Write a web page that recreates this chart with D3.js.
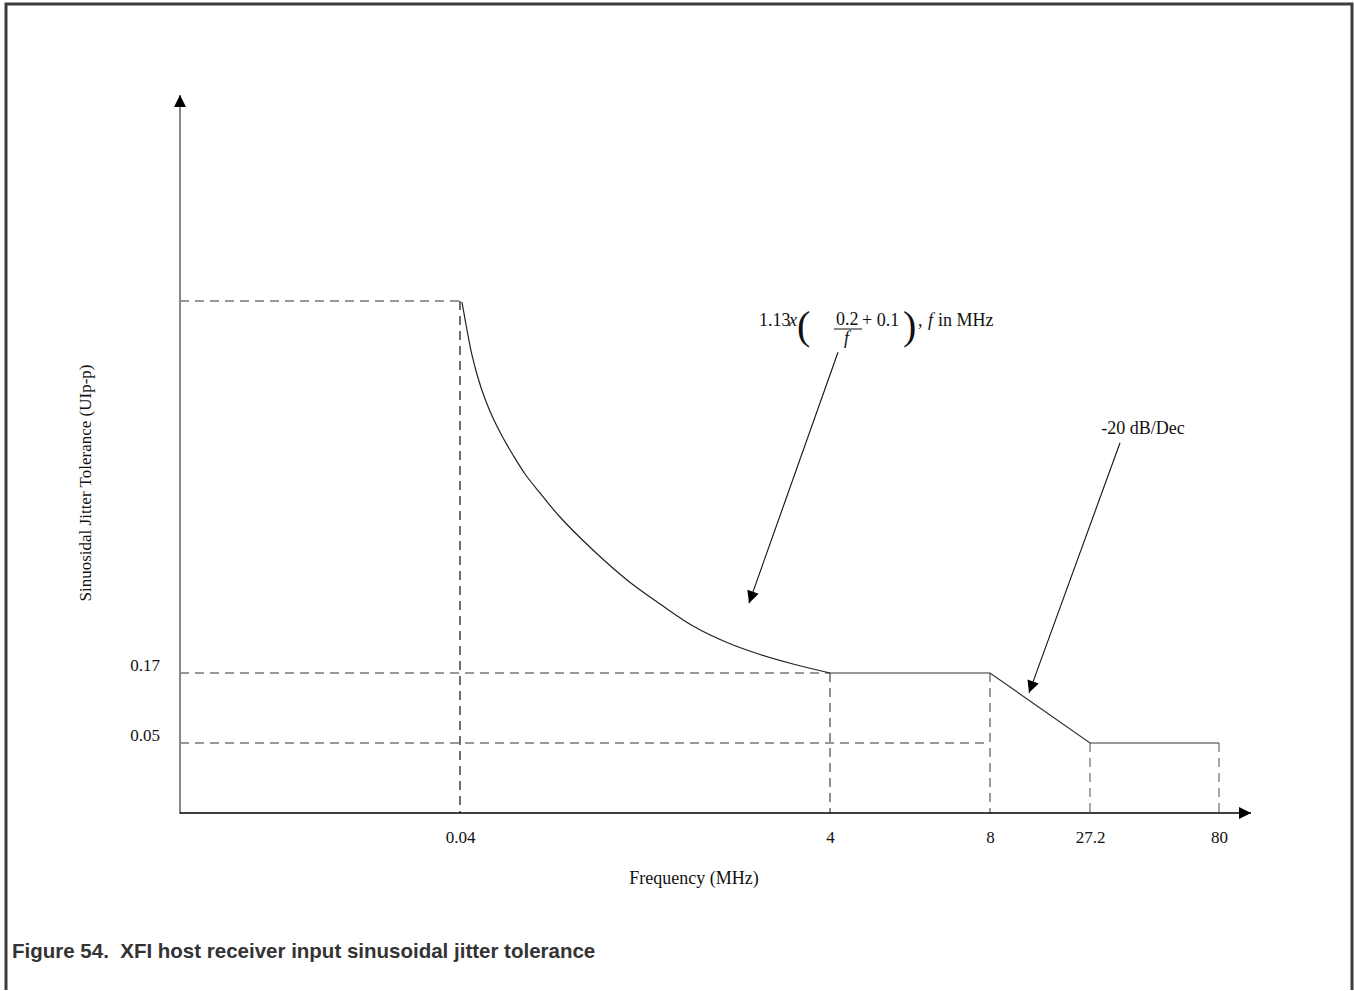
<!DOCTYPE html>
<html>
<head>
<meta charset="utf-8">
<script src="https://cdn.jsdelivr.net/npm/d3@7"></script>
<style>
  body { margin: 0; background: #fff; }
  .serif { font-family: "Liberation Serif", "Times New Roman", serif; }
</style>
</head>
<body>
<svg id="svg-main" width="1354" height="991"></svg>
<script>
// breakpoints of the tolerance mask (MHz, UIp-p)
var freqTicks = [0.04, 4, 8, 27.2, 80];
var uiTicks = [0.05, 0.17];
var peakUI = 5.76;

// 1/f segment between 0.04 and 4 MHz
var curveF  = [0.061, 0.115, 0.168, 0.233, 0.308, 0.393, 0.49, 0.607, 0.736, 0.896,
               1.11, 1.463, 1.827, 2.181, 2.534, 2.898, 3.251, 3.604, 4];
var curveUI = [5.745, 5.324, 4.949, 4.603, 4.287, 4.002, 3.731, 3.446, 3.16, 2.875,
               2.514, 2.018, 1.568, 1.207, 0.876, 0.628, 0.448, 0.305, 0.17];

// flat and -20 dB/Dec parts
var tailF  = [4, 8, 27.2, 80];
var tailUI = [0.17, 0.17, 0.05, 0.05];

// annotation arrows: [fromF, fromUI, toF, toUI]
var arrows = [
    [4.2, 4.99, 3.133, 1.22],
    [39.5, 3.63, 15.49, 0.136]
];

// drawing is schematic, so both scales are piecewise
var x = d3.scaleLinear()
    .domain([0, 0.04, 4, 8, 27.2, 80])
    .range([180, 460, 830, 990, 1090, 1219]);
var y = d3.scaleLinear()
    .domain([0, 0.05, 0.17, peakUI])
    .range([813, 743, 673, 301]);

var svg = d3.select("#svg-main");

// outer frame (no bottom edge)
svg.append("path")
    .attr("d", "M6,990 V4 H1352 V990")
    .attr("fill", "none")
    .attr("stroke", "#3d3d3d")
    .attr("stroke-width", 3);

var defs = svg.append("defs");
defs.append("marker")
    .attr("id", "head")
    .attr("viewBox", "0 0 10 10")
    .attr("refX", 10).attr("refY", 5)
    .attr("markerWidth", 13).attr("markerHeight", 12)
    .attr("markerUnits", "userSpaceOnUse")
    .attr("orient", "auto")
    .append("path")
    .attr("d", "M0,0 L10,5 L0,10 Z")
    .attr("fill", "#000");

// dashed guides
var guides = [
    [0, peakUI, 0.04, peakUI, "#777"],
    [0.04, peakUI, 0.04, 0, "#222"],
    [0, 0.17, 4, 0.17, "#777"],
    [0, 0.05, 8, 0.05, "#777"],
    [4, 0.17, 4, 0, "#555"],
    [8, 0.17, 8, 0, "#666"],
    [27.2, 0.05, 27.2, 0, "#777"],
    [80, 0.05, 80, 0, "#777"]
];
svg.selectAll(".guide")
    .data(guides)
    .enter()
    .append("line")
    .attr("class", "guide")
    .attr("x1", function(d) { return x(d[0]); })
    .attr("y1", function(d) { return y(d[1]); })
    .attr("x2", function(d) { return x(d[2]); })
    .attr("y2", function(d) { return y(d[3]); })
    .attr("stroke", function(d) { return d[4]; })
    .attr("stroke-width", 1.3)
    .attr("stroke-dasharray", "9,6");

// axes lines with arrow heads
svg.append("line")
    .attr("x1", x(0)).attr("y1", y(0) + 1)
    .attr("x2", x(0)).attr("y2", 95)
    .attr("stroke", "#888").attr("stroke-width", 2)
    .attr("marker-end", "url(#head)");
svg.append("line")
    .attr("x1", x(0)).attr("y1", y(0))
    .attr("x2", 1251).attr("y2", y(0))
    .attr("stroke", "#000").attr("stroke-width", 1.5)
    .attr("marker-end", "url(#head)");

// tick labels through d3 axes, no tick marks or domain
var xAxis = svg.append("g")
    .attr("transform", "translate(0," + y(0) + ")")
    .call(d3.axisBottom(x).tickValues(freqTicks).tickSize(0).tickPadding(18)
        .tickFormat(function(d) { return String(d); }));
xAxis.select(".domain").remove();
xAxis.selectAll("text")
    .style("font-family", "'Liberation Serif', serif")
    .style("font-size", "17px")
    .attr("fill", "#111");

var yAxis = svg.append("g")
    .attr("transform", "translate(" + x(0) + ",0)")
    .call(d3.axisLeft(y).tickValues(uiTicks).tickSize(0).tickPadding(20)
        .tickFormat(function(d) { return String(d); }));
yAxis.select(".domain").remove();
yAxis.selectAll("text")
    .style("font-family", "'Liberation Serif', serif")
    .style("font-size", "17px")
    .attr("fill", "#111")
    .attr("dy", "-0.15em");

// the mask
var line = d3.line()
    .x(function(d) { return x(d[0]); })
    .y(function(d) { return y(d[1]); });
var curve = d3.line()
    .x(function(d) { return x(d[0]); })
    .y(function(d) { return y(d[1]); })
    .curve(d3.curveCatmullRom.alpha(0.5));

svg.append("path")
    .datum(d3.zip(curveF, curveUI))
    .attr("d", curve)
    .attr("fill", "none")
    .attr("stroke", "#222")
    .attr("stroke-width", 1.2);
svg.append("path")
    .datum(d3.zip(tailF, tailUI))
    .attr("d", line)
    .attr("fill", "none")
    .attr("stroke", "#333")
    .attr("stroke-width", 1.2);

// annotation arrows
svg.selectAll(".arrow")
    .data(arrows)
    .enter()
    .append("line")
    .attr("class", "arrow")
    .attr("x1", function(d) { return x(d[0]); })
    .attr("y1", function(d) { return y(d[1]); })
    .attr("x2", function(d) { return x(d[2]); })
    .attr("y2", function(d) { return y(d[3]); })
    .attr("stroke", "#111")
    .attr("stroke-width", 1.1)
    .attr("marker-end", "url(#head)");

// axis titles
svg.append("text")
    .attr("class", "serif")
    .attr("x", 694).attr("y", 884)
    .attr("text-anchor", "middle")
    .attr("font-size", 18)
    .attr("fill", "#111")
    .text("Frequency (MHz)");
svg.append("text")
    .attr("class", "serif")
    .attr("transform", "translate(91,483) rotate(-90)")
    .attr("text-anchor", "middle")
    .attr("font-size", 17)
    .attr("fill", "#111")
    .text("Sinuosidal Jitter Tolerance (UIp-p)");

// formula label
var fx = svg.append("g").attr("class", "serif").attr("fill", "#111").attr("font-size", 18);
fx.append("text").attr("x", 759).attr("y", 326).text("1.13");
fx.append("text").attr("x", 789).attr("y", 326).attr("font-style", "italic").text("x");
fx.append("text").attr("x", 797).attr("y", 339)
    .attr("font-size", 40).text("(");
fx.append("text").attr("x", 836).attr("y", 325).text("0.2");
fx.append("line").attr("x1", 834).attr("x2", 862).attr("y1", 329).attr("y2", 329)
    .attr("stroke", "#111").attr("stroke-width", 1);
fx.append("text").attr("x", 844).attr("y", 344).attr("font-style", "italic").text("f");
fx.append("text").attr("x", 862).attr("y", 326).text("+ 0.1");
fx.append("text").attr("x", 903).attr("y", 339)
    .attr("font-size", 40).text(")");
fx.append("text").attr("x", 918).attr("y", 326).text(",");
fx.append("text").attr("x", 928).attr("y", 326).attr("font-style", "italic").text("f");
fx.append("text").attr("x", 938).attr("y", 326).text("in MHz");

svg.append("text")
    .attr("class", "serif")
    .attr("x", 1143).attr("y", 434)
    .attr("text-anchor", "middle")
    .attr("font-size", 18)
    .attr("fill", "#111")
    .text("-20 dB/Dec");

// caption
svg.append("text")
    .attr("x", 12).attr("y", 958)
    .style("font-family", "'Liberation Sans', Arial, sans-serif")
    .style("font-weight", "bold")
    .style("font-size", "20.5px")
    .style("white-space", "pre")
    .attr("fill", "#333")
    .text("Figure 54.  XFI host receiver input sinusoidal jitter tolerance");
</script>
</body>
</html>
